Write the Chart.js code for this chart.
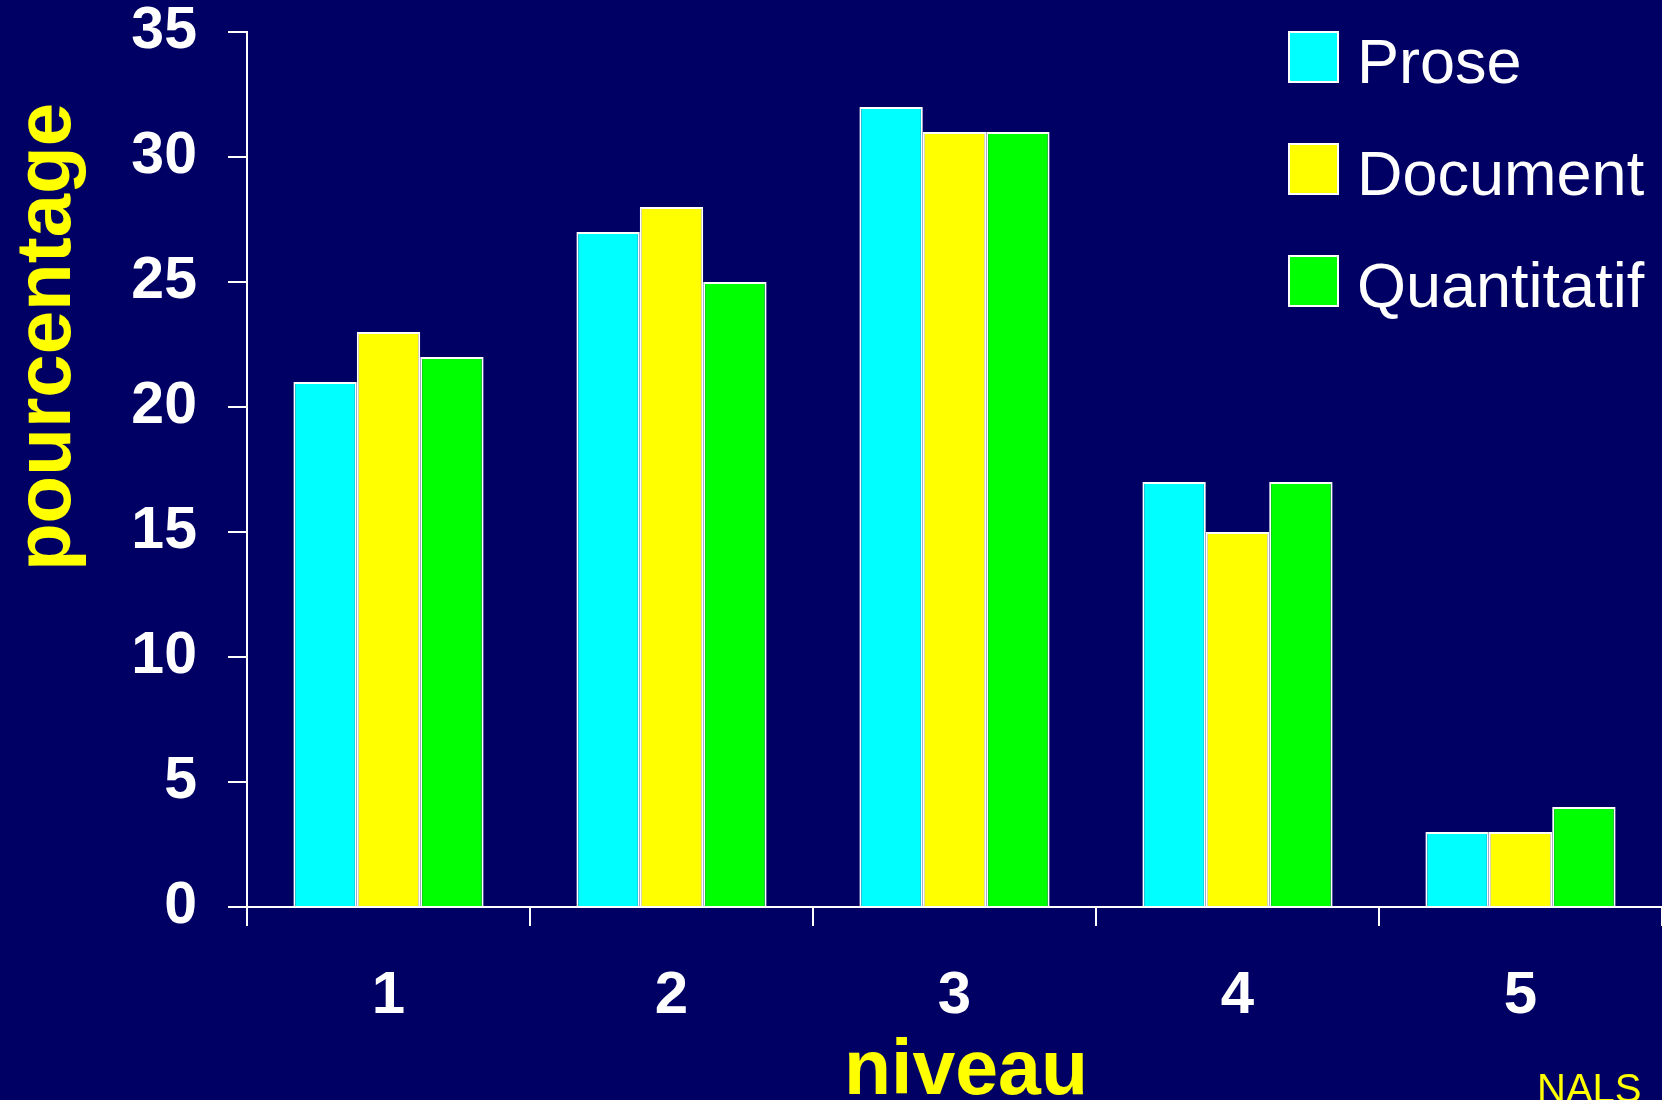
<!DOCTYPE html>
<html lang="fr">
<head>
<meta charset="utf-8">
<title>Niveaux NALS</title>
<script src="https://cdn.jsdelivr.net/npm/chart.js@4.4.1/dist/chart.umd.min.js"></script>
<style>
  html, body { margin: 0; padding: 0; background: #000064; overflow: hidden; }
  canvas { display: block; }
</style>
</head>
<body>
<canvas id="niveaux" width="1662" height="1100"></canvas>
<script>
  // Data
  const levels = ["1", "2", "3", "4", "5"];
  const seriesNames = ["Prose", "Document", "Quantitatif"];
  const proseValues = [21, 27, 32, 17, 3];
  const documentValues = [23, 28, 31, 15, 3];
  const quantValues = [22, 25, 31, 17, 4];
  const seriesColors = ["#00ffff", "#ffff00", "#00ff00"];

  const FONT = "'Liberation Sans', Arial, sans-serif";
  Chart.defaults.font.family = FONT;

  // Axis titles and source note
  const textPlugin = {
    id: "textLabels",
    afterDraw(chart) {
      const ctx = chart.ctx;
      ctx.save();
      ctx.fillStyle = "#ffff00";
      ctx.font = "bold 77px " + FONT;
      ctx.textAlign = "center";
      ctx.textBaseline = "alphabetic";
      ctx.fillText("niveau", 966, 1094);

      ctx.translate(70, 337);
      ctx.rotate(-Math.PI / 2);
      ctx.font = "bold 78px " + FONT;
      ctx.fillText("pourcentage", 0, 0);
      ctx.restore();

      ctx.save();
      ctx.fillStyle = "#ffff00";
      ctx.font = "40px " + FONT;
      ctx.textAlign = "left";
      ctx.fillText("NALS", 1537, 1102);
      ctx.restore();
    }
  };

  // Legend in the top right corner
  const legendPlugin = {
    id: "cornerLegend",
    afterDraw(chart) {
      const ctx = chart.ctx;
      ctx.save();
      chart.data.datasets.forEach((ds, i) => {
        const top = 32 + i * 112;
        ctx.fillStyle = ds.backgroundColor;
        ctx.fillRect(1289, top, 49, 50);
        ctx.strokeStyle = "#ffffff";
        ctx.lineWidth = 2;
        ctx.strokeRect(1289, top, 49, 50);
        ctx.fillStyle = "#ffffff";
        ctx.font = "63px " + FONT;
        ctx.textAlign = "left";
        ctx.textBaseline = "alphabetic";
        ctx.fillText(ds.label, 1357, top + 51);
      });
      ctx.restore();
    }
  };

  const makeSet = (idx, values) => ({
    label: seriesNames[idx],
    data: values,
    backgroundColor: seriesColors[idx],
    borderColor: "#ffffff",
    borderWidth: 2,
    barPercentage: 1,
    categoryPercentage: 0.672
  });

  new Chart(document.getElementById("niveaux"), {
    type: "bar",
    data: {
      labels: levels,
      datasets: [
        makeSet(0, proseValues),
        makeSet(1, documentValues),
        makeSet(2, quantValues)
      ]
    },
    options: {
      responsive: false,
      animation: false,
      devicePixelRatio: 1,
      layout: { padding: { top: 32, left: 0, right: 0, bottom: 0 } },
      plugins: {
        legend: { display: false },
        tooltip: { enabled: false }
      },
      scales: {
        x: {
          afterFit: scale => {
            scale.height = 193;
            scale.paddingLeft = 0;
            scale.paddingRight = 0;
          },
          grid: {
            offset: true,
            drawOnChartArea: false,
            drawTicks: true,
            tickLength: 19,
            color: "#ffffff",
            lineWidth: 2
          },
          border: { display: true, color: "#ffffff", width: 2 },
          ticks: {
            color: "#ffffff",
            padding: 40,
            font: { size: 60, weight: "bold", lineHeight: 1 }
          }
        },
        y: {
          min: 0,
          max: 35,
          afterFit: scale => {
            scale.width = 247;
            scale.paddingTop = 0;
            scale.paddingBottom = 0;
          },
          grid: {
            drawOnChartArea: false,
            drawTicks: true,
            tickLength: 19,
            color: "#ffffff",
            lineWidth: 2
          },
          border: { display: true, color: "#ffffff", width: 2 },
          ticks: {
            stepSize: 5,
            color: "#ffffff",
            padding: 31,
            font: { size: 59, weight: "bold", lineHeight: 1 }
          }
        }
      }
    },
    plugins: [textPlugin, legendPlugin]
  });
</script>
</body>
</html>
